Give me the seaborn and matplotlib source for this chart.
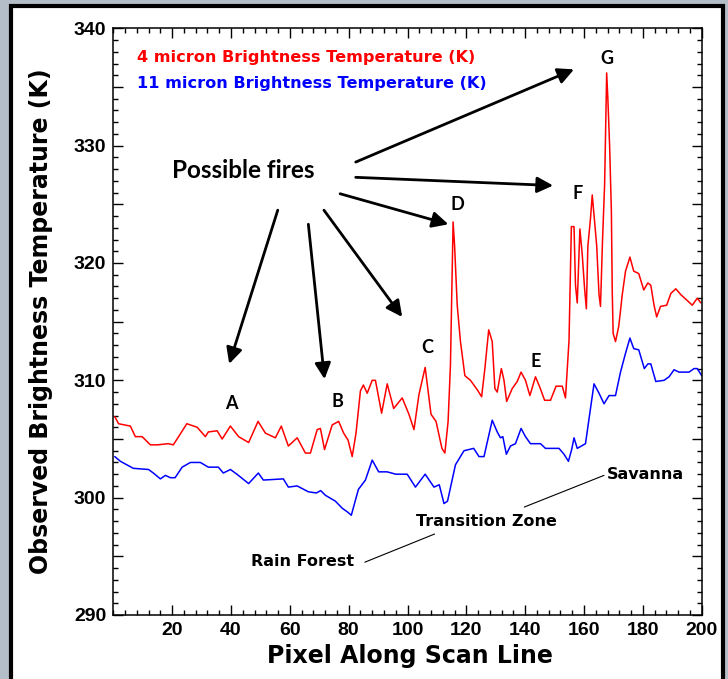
import numpy as np
import pandas as pd
import matplotlib
matplotlib.use("Agg")
import matplotlib.pyplot as plt
from matplotlib.patches import Rectangle
from matplotlib.ticker import MultipleLocator
import seaborn as sns

# ---- data ----
red_x = [0.5, 1.8, 5.8, 7.5, 9.8, 12.6, 14.9, 18.7, 20.4, 25.0, 28.5, 31.3, 32.3, 35.3, 37.0,
         39.8, 42.6, 46.0, 49.2, 51.7, 53.4, 55.1, 57.1, 59.5, 62.5, 65.3, 67.0, 69.3, 70.4,
         71.8, 74.4, 76.6, 78.3, 79.8, 81.2, 82.5, 84.0, 85.0, 86.3, 88.0, 89.1, 91.2, 93.1,
         95.3, 98.2, 100.5, 102.2, 103.9, 106.0, 108.0, 109.7, 111.7, 112.7, 113.8, 114.6,
         115.5, 116.0, 116.9, 118.0, 119.5, 121.4, 123.7, 125.2, 126.3, 127.6, 128.8, 129.7,
         130.5, 131.9, 132.8, 133.7, 135.6, 137.3, 138.6, 140.1, 141.6, 143.5, 145.0, 146.6,
         148.6, 150.5, 152.6, 153.7, 154.9, 155.7, 156.6, 157.1, 157.7, 158.6, 159.4, 160.2,
         160.8, 161.3, 162.2, 162.8, 163.6, 164.3, 165.1, 165.6, 166.3, 167.0, 167.7, 168.1,
         168.7, 169.3, 169.6, 169.9, 170.7, 171.8, 173.0, 174.1, 175.6, 176.9, 178.6, 180.3,
         181.7, 182.7, 183.8, 184.7, 186.0, 188.1, 189.5, 191.2, 192.9, 195.1, 196.8, 198.5,
         199.7]
red_y = [306.9, 306.3, 306.1, 305.2, 305.2, 304.5, 304.5, 304.6, 304.5, 306.3, 306.0, 305.2,
         305.6, 305.7, 305.0, 306.1, 305.2, 304.7, 306.5, 305.5, 305.3, 305.1, 306.1, 304.4,
         305.1, 303.8, 303.8, 305.8, 305.9, 304.1, 306.2, 306.5, 305.5, 304.9, 303.5, 305.5,
         309.1, 309.6, 308.9, 310.0, 310.0, 307.2, 309.7, 307.6, 308.5, 307.1, 305.8, 308.8,
         311.1, 307.1, 306.5, 304.2, 303.8, 306.5, 311.3, 323.5, 321.5, 316.4, 313.3, 310.4,
         310.0, 309.2, 308.6, 311.0, 314.3, 313.3, 309.3, 309.0, 311.0, 310.0, 308.2, 309.3,
         309.9, 310.7, 310.0, 308.7, 310.3, 309.4, 308.3, 308.3, 309.5, 309.5, 308.5, 313.4,
         323.1, 323.1, 318.1, 316.6, 322.9, 320.7, 317.8, 316.1, 321.4, 323.8, 325.8, 323.5,
         321.5, 317.3, 316.3, 322.0, 326.7, 336.2, 334.0, 330.0, 324.4, 317.5, 314.0, 313.3,
         314.6, 317.3, 319.3, 320.5, 319.3, 319.1, 317.7, 318.3, 318.1, 316.4, 315.4, 316.3,
         316.4, 317.4, 317.8, 317.3, 316.8, 316.4, 317.0, 316.6]

blue_x = [0.5, 2.4, 6.8, 12.0, 13.6, 16.0, 17.7, 19.4, 21.0, 23.4, 26.2, 29.6, 32.3, 35.7,
          37.4, 39.8, 42.0, 46.0, 49.3, 51.0, 57.8, 59.5, 62.5, 66.3, 69.0, 70.5, 72.1, 75.5,
          77.8, 79.5, 80.9, 83.3, 85.7, 88.0, 90.2, 93.1, 96.0, 99.9, 102.7, 106.0, 109.0,
          110.8, 112.4, 113.6, 116.3, 119.2, 122.5, 124.3, 126.0, 128.8, 130.5, 131.6, 132.4,
          133.6, 135.0, 136.7, 138.6, 140.1, 141.8, 145.2, 146.9, 151.5, 153.2, 154.7, 155.8,
          156.6, 157.7, 160.5, 162.2, 163.4, 165.1, 166.8, 168.5, 170.7, 172.4, 174.1, 175.6,
          176.9, 178.6, 180.5, 181.7, 182.7, 184.4, 187.2, 188.9, 190.6, 192.3, 195.7, 197.4,
          198.5, 200.0]
blue_y = [303.5, 303.1, 302.5, 302.4, 302.1, 301.6, 301.9, 301.7, 301.7, 302.6, 303.0, 303.0,
          302.6, 302.6, 302.1, 302.4, 302.0, 301.2, 302.1, 301.5, 301.6, 300.9, 301.0, 300.5,
          300.4, 300.6, 300.2, 299.7, 299.1, 298.8, 298.5, 300.7, 301.5, 303.2, 302.2, 302.2,
          302.0, 302.0, 300.9, 302.0, 300.9, 301.1, 299.5, 299.7, 302.8, 304.0, 304.2, 303.5,
          303.5, 306.6, 305.6, 305.1, 305.2, 303.7, 304.4, 304.6, 305.9, 305.2, 304.6, 304.6,
          304.2, 304.2, 303.7, 303.1, 304.1, 305.1, 304.2, 304.6, 307.6, 309.7, 308.9, 308.0,
          308.7, 308.7, 310.7, 312.3, 313.6, 312.7, 312.6, 311.0, 311.4, 311.4, 309.9, 310.0,
          310.3, 310.9, 310.7, 310.7, 311.0, 311.0, 310.4]

series_labels = ["4 micron Brightness Temperature (K)", "11 micron Brightness Temperature (K)"]
fire_letters = ["A", "B", "C", "D", "E", "F", "G"]
fire_x = [40.0, 76.1, 106.8, 117.1, 143.5, 157.9, 167.9]
fire_y = [308.0, 308.2, 312.8, 325.0, 311.6, 325.9, 337.4]
x_ticks = [20, 40, 60, 80, 100, 120, 140, 160, 180, 200]
y_ticks = [290, 300, 310, 320, 330, 340]

# ---- figure ----
sns.set_theme(style="white")
plt.rcParams["font.family"] = ["Liberation Sans", "DejaVu Sans"]
plt.rcParams["text.color"] = "black"
plt.rcParams["axes.labelcolor"] = "black"
plt.rcParams["xtick.color"] = "black"
plt.rcParams["ytick.color"] = "black"
WIDE = ["DejaVu Sans"]
ROUND = ["Lato", "DejaVu Sans"]

fig = plt.figure(figsize=(7.28, 6.79), dpi=100)
fig.patch.set_facecolor("#b4bec8")
fig.patches.append(Rectangle((10.5 / 728, -0.01), (722.5 - 10.5) / 728, 1 - 6 / 679 + 0.01,
                             transform=fig.transFigure, facecolor="white",
                             edgecolor="black", linewidth=3, zorder=-10))

ax = fig.add_axes([113.3 / 728, 1 - 615 / 679, 588.4 / 728, 586.7 / 679])
ax.set_zorder(5)
ax.set_facecolor("white")

df_red = pd.DataFrame({"x": red_x, "y": red_y})
df_blue = pd.DataFrame({"x": blue_x, "y": blue_y})
sns.lineplot(data=df_red, x="x", y="y", ax=ax, color="#ff0000", lw=1.1,
             estimator=None, sort=False)
sns.lineplot(data=df_blue, x="x", y="y", ax=ax, color="#0000ff", lw=1.1,
             estimator=None, sort=False)

ax.set_xlim(0, 200)
ax.set_ylim(290, 340)
ax.set_xticks(x_ticks)
ax.xaxis.set_minor_locator(MultipleLocator(4))
ax.yaxis.set_minor_locator(MultipleLocator(1))
ax.set_yticks(np.arange(290, 341, 5))
ax.set_yticklabels([str(v) if v in y_ticks else "" for v in np.arange(290, 341, 5)])
ax.tick_params(which="both", direction="in", top=True, right=True, bottom=True, left=True,
               width=1.0, color="black", labelcolor="black")
ax.tick_params(which="major", length=7.5, labelsize=14, pad=5)
ax.tick_params(which="minor", length=3.8)
for lab in ax.get_xticklabels() + ax.get_yticklabels():
    lab.set_fontweight("bold")
for s in ax.spines.values():
    s.set_color("black")
    s.set_linewidth(1.1)

ax.set_xlabel("Pixel Along Scan Line", fontsize=17, fontweight="bold", family=WIDE,
              color="black")
ax.set_ylabel("Observed Brightness Temperature (K)", fontsize=17, fontweight="bold",
              family=WIDE, color="black")
ax.xaxis.set_label_coords(0.504, -0.05)
ax.yaxis.set_label_coords(-0.103, 0.5)

# legend-like texts
ax.text(8.2, 337.5, series_labels[0], color="#ff0000", fontsize=11.6, fontweight="bold",
        family=WIDE, ha="left", va="center")
ax.text(8.2, 335.3, series_labels[1], color="#0000ff", fontsize=11.6, fontweight="bold",
        family=WIDE, ha="left", va="center")

# possible fires annotation
ax.text(20.1, 327.9, "Possible fires", fontsize=17.5, fontweight="bold", family=ROUND,
        color="black", ha="left", va="center")
arrows = [((55.9, 324.5), (39.4, 311.4)),
          ((66.3, 323.3), (71.8, 310.1)),
          ((71.6, 324.5), (98.2, 315.4)),
          ((77.1, 325.9), (113.9, 323.3)),
          ((82.4, 327.3), (149.5, 326.6)),
          ((82.4, 328.6), (156.6, 336.5))]
for start, end in arrows:
    ax.annotate("", xy=end, xytext=start,
                arrowprops=dict(arrowstyle="-|>,head_length=0.8,head_width=0.4",
                                color="black", lw=2.0, shrinkA=0, shrinkB=0))

for lt, fx, fy in zip(fire_letters, fire_x, fire_y):
    ax.text(fx, fy, lt, fontsize=13, fontweight="bold", family=ROUND, color="black",
            ha="center", va="center")

# zone labels
ax.text(167.6, 302.0, "Savanna", fontsize=11.5, fontweight="bold", family=WIDE,
        color="black", ha="left", va="center")
ax.text(102.9, 298.0, "Transition Zone", fontsize=11.5, fontweight="bold", family=WIDE,
        color="black", ha="left", va="center")
ax.text(46.8, 294.6, "Rain Forest", fontsize=11.5, fontweight="bold", family=WIDE,
        color="black", ha="left", va="center")
ax.plot([85.5, 109.2], [294.5, 296.9], color="black", lw=0.8)
ax.plot([139.7, 166.8], [299.2, 301.9], color="black", lw=0.8)

fig.savefig("out.png", dpi=100, facecolor=fig.get_facecolor())
